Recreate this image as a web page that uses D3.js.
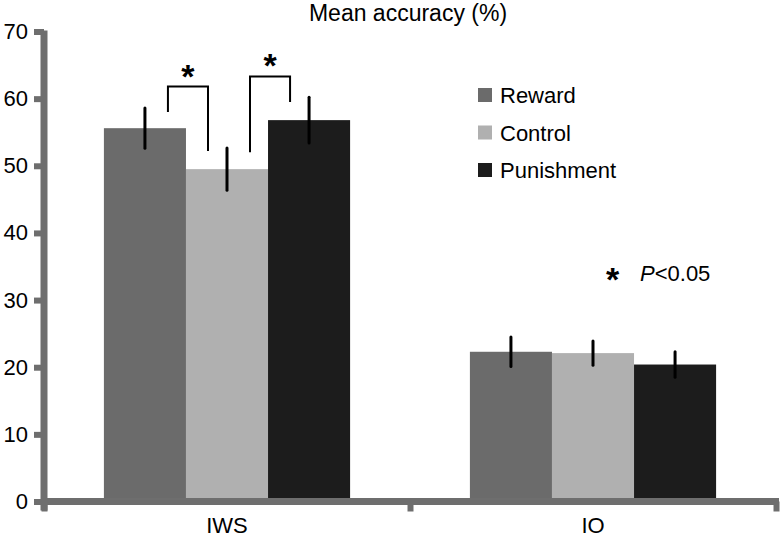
<!DOCTYPE html>
<html>
<head>
<meta charset="utf-8">
<script src="https://cdn.jsdelivr.net/npm/d3@7"></script>
<style>
  html, body { margin: 0; padding: 0; background: #fff; }
  svg { display: block; font-family: "Liberation Sans", Arial, sans-serif; }
</style>
</head>
<body>
<svg id="chart" width="780" height="542"></svg>
<script>
// ---- data ----
const categories = ["IWS", "IO"];
const seriesNames = ["Reward", "Control", "Punishment"];
const reward = [55.6, 22.3];
const control = [49.5, 22.1];
const punishment = [56.8, 20.4];
const rewardErr = [3.0, 2.2];
const controlErr = [3.15, 1.8];
const punishmentErr = [3.4, 1.9];
const yTicks = [0, 10, 20, 30, 40, 50, 60, 70];
const colors = ["#6b6b6b", "#b0b0b0", "#1c1c1c"];
// significance brackets (IWS): [series a, series b, top, end a, end b]
const brackets = [
  ["Reward", "Control", 61.8, 58.0, 52.2],
  ["Control", "Punishment", 63.3, 52.0, 59.5]
];
const titleText = "Mean accuracy (%)";
const noteText = "<0.05";

const values = [reward, control, punishment];
const errs = [rewardErr, controlErr, punishmentErr];

const svg = d3.select("#chart");
const axisColor = "#6e6e6e";

const x0 = d3.scaleBand().domain(categories).range([44, 776]).paddingInner(0).paddingOuter(0);
const x1 = d3.scaleBand().domain(seriesNames).range([0, x0.bandwidth()]).paddingInner(0).paddingOuter(0.73);
const y = d3.scaleLinear().domain([0, 70]).range([501.5, 31.5]);

// bars
const barData = [];
categories.forEach((c, ci) => seriesNames.forEach((s, si) => {
  barData.push({ c, s, si, v: values[si][ci], e: errs[si][ci] });
}));

svg.append("g").selectAll("rect").data(barData).join("rect")
  .attr("x", d => x0(d.c) + x1(d.s))
  .attr("width", x1.bandwidth())
  .attr("y", d => y(d.v))
  .attr("height", d => y(0) - y(d.v))
  .attr("fill", d => colors[d.si]);

// error bars
svg.append("g").selectAll("line").data(barData).join("line")
  .attr("x1", d => x0(d.c) + x1(d.s) + x1.bandwidth() / 2)
  .attr("x2", d => x0(d.c) + x1(d.s) + x1.bandwidth() / 2)
  .attr("y1", d => y(d.v + d.e))
  .attr("y2", d => y(d.v - d.e))
  .attr("stroke", "#000")
  .attr("stroke-width", 3)
  .attr("stroke-linecap", "round");

// axes
const yAxis = d3.axisLeft(y).tickValues(yTicks).tickSize(6).tickPadding(8);
const gy = svg.append("g").attr("transform", "translate(44,0)").call(yAxis);
gy.select(".domain").remove();
gy.selectAll(".tick line").attr("stroke", axisColor).attr("stroke-width", 6).attr("x2", -10).attr("x1", 0);
gy.selectAll(".tick text").attr("font-size", 22).attr("fill", "#000")
  .attr("font-family", "Liberation Sans, Arial, sans-serif").attr("x", -16);
gy.append("line").attr("x1", 0).attr("x2", 0).attr("y1", y(70) - 1).attr("y2", y(0) + 9)
  .attr("stroke", axisColor).attr("stroke-width", 7);

const xAxisScale = d3.scaleLinear().domain([0, categories.length]).range([44, 776]);
const xAxis = d3.axisBottom(xAxisScale).tickValues(d3.range(categories.length + 1)).tickSize(10).tickFormat("");
const gx = svg.append("g").attr("transform", `translate(0,${y(0)})`).call(xAxis);
gx.select(".domain").remove();
gx.selectAll(".tick line").attr("stroke", axisColor).attr("stroke-width", 6);
gx.append("line").attr("x1", 41).attr("x2", 779).attr("y1", 0).attr("y2", 0)
  .attr("stroke", axisColor).attr("stroke-width", 7);

// category labels
svg.append("g").selectAll("text").data(categories).join("text")
  .attr("x", d => x0(d) + x0.bandwidth() / 2)
  .attr("y", 533)
  .attr("text-anchor", "middle")
  .attr("font-size", 22)
  .text(d => d);

// title
svg.append("text").attr("x", 408).attr("y", 21).attr("text-anchor", "middle")
  .attr("font-size", 23).text(titleText);

// brackets
const cx = s => x0("IWS") + x1(s) + x1.bandwidth() / 2;
brackets.forEach(([a, b, top, ea, eb]) => {
  const xa = cx(a) + 23, xb = cx(b) - 19;
  svg.append("path")
    .attr("d", `M${xa},${y(ea)}V${y(top)}H${xb}V${y(eb)}`)
    .attr("fill", "none").attr("stroke", "#000").attr("stroke-width", 2);
  svg.append("text").attr("x", (xa + xb) / 2).attr("y", y(top) + 1)
    .attr("text-anchor", "middle").attr("font-size", 34).attr("font-weight", "bold").text("*");
});

// legend
const lg = svg.append("g").attr("transform", "translate(478,88)");
seriesNames.forEach((s, i) => {
  const g = lg.append("g").attr("transform", `translate(0,${i * 37.5})`);
  g.append("rect").attr("width", 14).attr("height", 14).attr("fill", colors[i]);
  g.append("text").attr("x", 22).attr("y", 15).attr("font-size", 22).text(s);
});

// note
const note = svg.append("text").attr("x", 606).attr("y", 281).attr("font-size", 22);
note.append("tspan").attr("font-size", 34).attr("font-weight", "bold").attr("dy", 10).text("*");
note.append("tspan").attr("x", 640).attr("dy", -10).attr("font-style", "italic").text("P");
note.append("tspan").text(noteText);
</script>
</body>
</html>
